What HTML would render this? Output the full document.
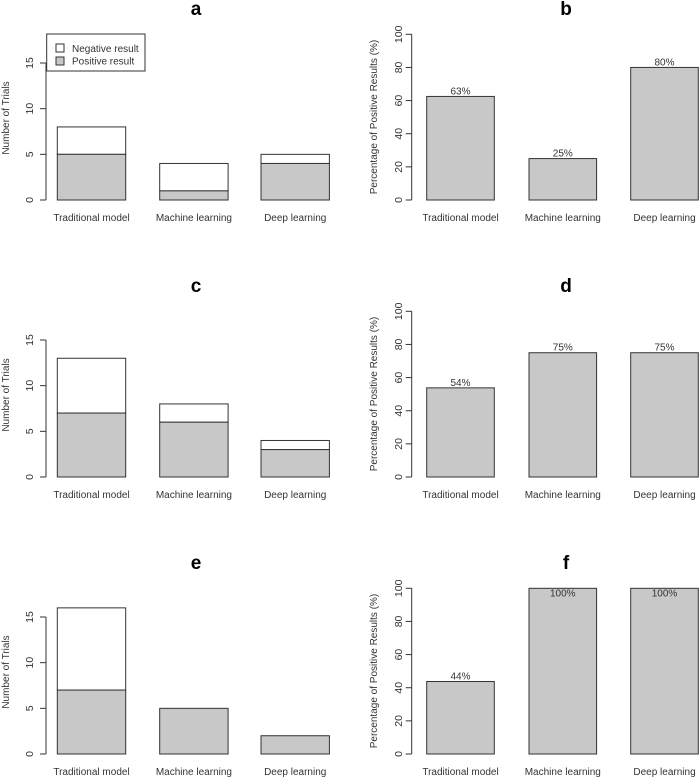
<!DOCTYPE html>
<html><head><meta charset="utf-8"><style>
html,body{margin:0;padding:0;background:#fff;}
svg{display:block;font-family:"Liberation Sans",Arial,sans-serif;}
</style></head><body>
<svg id="chart" width="699" height="778" viewBox="0 0 699 778" xmlns="http://www.w3.org/2000/svg"></svg>
<script>
const categories = ["Traditional model","Machine learning","Deep learning"];
const positiveA = [5,1,4];
const totalA = [8,4,5];
const positiveC = [7,6,3];
const totalC = [13,8,4];
const positiveE = [7,5,2];
const totalE = [16,5,2];
const pctB = [62.5,25,80];
const pctLabelsB = ["63%","25%","80%"];
const pctD = [53.8,75,75];
const pctLabelsD = ["54%","75%","75%"];
const pctF = [43.75,100,100];
const pctLabelsF = ["44%","100%","100%"];
const countTicks = [0,5,10,15];
const pctTicks = [0,20,40,60,80,100];
const panelLetters = ["a","b","c","d","e","f"];

const NS="http://www.w3.org/2000/svg";
const svg=document.getElementById('chart');
function mk(tag,attrs,parent,text){const e=document.createElementNS(NS,tag);for(const k in attrs)e.setAttribute(k,attrs[k]);if(text!==undefined)e.textContent=text;(parent||svg).appendChild(e);return e;}
const GRAY="#c8c8c8", STROKE="#333";

function drawCountPanel(idx,row,pos,tot,legend){
  const g=mk('g',{});
  
  
  const oy=row*277;
  const y0=200+oy, pxPer=137/15;
  const yS=v=>y0-v*pxPer;
  const bx=[57.3,159.7,261], bw=68.4;
  const t=mk('text',{x:196,y:15+oy,'text-anchor':'middle','font-size':19,'font-weight':'bold',fill:'#000'},g,panelLetters[idx]);
   
  const ax=mk('g',{},g);  
  mk('line',{x1:46,x2:46,y1:yS(0),y2:yS(15),stroke:STROKE,'stroke-width':1},ax);
  countTicks.forEach(v=>{
    mk('line',{x1:40,x2:46,y1:yS(v),y2:yS(v),stroke:STROKE},ax);
    const tl=mk('text',{x:0,y:0,transform:`translate(33,${yS(v)}) rotate(-90)`,'text-anchor':'middle','font-size':10.5,fill:'#333'},ax,String(v));
     
  });
  const yt=mk('text',{transform:`translate(9,${118+oy}) rotate(-90)`,'text-anchor':'middle','font-size':10,fill:'#333'},g,'Number of Trials');
   
  categories.forEach((c,i)=>{
    const neg=mk('rect',{x:bx[i],y:yS(tot[i]),width:bw,height:yS(pos[i])-yS(tot[i]),fill:'#fff',stroke:STROKE,'stroke-width':1},g);
     
    const p=mk('rect',{x:bx[i],y:yS(pos[i]),width:bw,height:yS(0)-yS(pos[i]),fill:GRAY,stroke:STROKE,'stroke-width':1},g);
     
    const cl=mk('text',{x:bx[i]+bw/2,y:221+oy,'text-anchor':'middle','font-size':10,fill:'#333'},g,c);
     
  });
  if(legend){
    const lg=mk('g',{},g);  
    mk('rect',{x:46.7,y:34,width:98.3,height:37,fill:'#fff',stroke:STROKE},lg);
    mk('rect',{x:56,y:44,width:8,height:8,fill:'#fff',stroke:STROKE},lg);
    mk('rect',{x:56,y:57,width:8,height:8,fill:GRAY,stroke:STROKE},lg);
    const l1=mk('text',{x:72,y:52,'font-size':10,fill:'#333'},lg,'Negative result');
     
    const l2=mk('text',{x:72,y:64.5,'font-size':10,fill:'#333'},lg,'Positive result');
     
  }
}

function drawPctPanel(idx,row,vals,labels){
  const g=mk('g',{});
  
  
  const oy=row*277;
  const y0=200+oy, pxPer=165.7/100;
  const yS=v=>y0-v*pxPer;
  const bx=[426.7,529,630.7], bw=67.6;
  const t=mk('text',{x:566,y:15+oy,'text-anchor':'middle','font-size':19,'font-weight':'bold',fill:'#000'},g,panelLetters[idx]);
   
  const ax=mk('g',{},g);  
  mk('line',{x1:411.7,x2:411.7,y1:yS(0),y2:yS(100),stroke:STROKE},ax);
  pctTicks.forEach(v=>{
    mk('line',{x1:405.7,x2:411.7,y1:yS(v),y2:yS(v),stroke:STROKE},ax);
    const tl=mk('text',{transform:`translate(402,${yS(v)}) rotate(-90)`,'text-anchor':'middle','font-size':10.5,fill:'#333'},ax,String(v));
     
  });
  const yt=mk('text',{transform:`translate(377,${117+oy}) rotate(-90)`,'text-anchor':'middle','font-size':10,fill:'#333'},g,'Percentage of Positive Results (%)');
   
  categories.forEach((c,i)=>{
    const b=mk('rect',{x:bx[i],y:yS(vals[i]),width:bw,height:yS(0)-yS(vals[i]),fill:GRAY,stroke:STROKE},g);
     
    const vl=mk('text',{x:bx[i]+bw/2,y:yS(vals[i])-2,'text-anchor':'middle','font-size':10,fill:'#333'},g,labels[i]);
    if(vals[i]>=100) vl.setAttribute('y',yS(vals[i])+8);
     
    const cl=mk('text',{x:bx[i]+bw/2,y:221+oy,'text-anchor':'middle','font-size':10,fill:'#333'},g,c);
     
  });
}

drawCountPanel(0,0,positiveA,totalA,true);
drawPctPanel(1,0,pctB,pctLabelsB);
drawCountPanel(2,1,positiveC,totalC,false);
drawPctPanel(3,1,pctD,pctLabelsD);
drawCountPanel(4,2,positiveE,totalE,false);
drawPctPanel(5,2,pctF,pctLabelsF);
</script>
</body></html>
